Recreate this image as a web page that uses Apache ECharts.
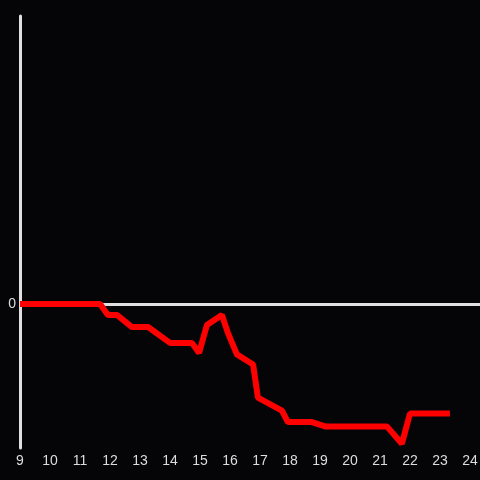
<!DOCTYPE html>
<html>
<head>
<meta charset="utf-8">
<script src="https://cdn.jsdelivr.net/npm/echarts@6/dist/echarts.min.js"></script>
<style>
  html, body { margin: 0; padding: 0; background: #050407; }
  #chart { width: 480px; height: 480px; }
</style>
</head>
<body>
<div id="chart"></div>
<script>
// hours of the day (x) and value (y)
const hours = [9, 11.67, 11.93, 12.23, 12.73, 13.27, 14.0, 14.73, 14.97, 15.23, 15.73, 15.93, 16.23, 16.77, 16.93, 17.73, 17.93, 18.73, 19.17, 21.23, 21.73, 22.0, 23.33]
const values = [0, 0, -7.6, -7.6, -16, -16, -27, -27, -34, -14.6, -7.6, -20, -35, -42, -65, -74, -82, -82, -85, -85, -97, -76, -76]

const points = hours.map((h, i) => [h, values[i]])

const axisColor = '#e0e0e0'
const labelColor = '#dddddd'

const chart = echarts.init(document.getElementById('chart'))

chart.setOption({
    backgroundColor: '#050407',
    animation: false,
    grid: { left: 20, right: 0, top: 16, bottom: 32, outerBoundsMode: 'none' },
    xAxis: {
        type: 'value',
        min: 9,
        max: 24 + 1 / 3,
        interval: 1,
        axisLine: { show: false },
        axisTick: { show: false },
        splitLine: { show: false },
        axisLabel: {
            color: labelColor,
            fontFamily: 'Liberation Sans',
            fontSize: 14,
            margin: 6,
            formatter: v => Number.isInteger(v) ? String(v) : ''
        }
    },
    yAxis: {
        type: 'value',
        min: -100,
        max: 200,
        interval: 100,
        axisLine: { show: true, lineStyle: { color: axisColor, width: 3 } },
        axisTick: { show: false },
        splitLine: { show: false },
        axisLabel: {
            color: labelColor,
            fontFamily: 'Liberation Sans',
            fontSize: 14,
            margin: 4,
            formatter: v => v === 0 ? '0' : ''
        }
    },
    series: [{
        type: 'line',
        data: points,
        symbol: 'none',
        lineStyle: { color: '#ff0000', width: 6 },
        z: 3,
        markLine: {
            silent: true,
            symbol: 'none',
            label: { show: false },
            lineStyle: { color: axisColor, width: 3, type: 'solid' },
            data: [{ yAxis: 0 }],
            z: 1
        }
    }]
})
</script>
</body>
</html>
